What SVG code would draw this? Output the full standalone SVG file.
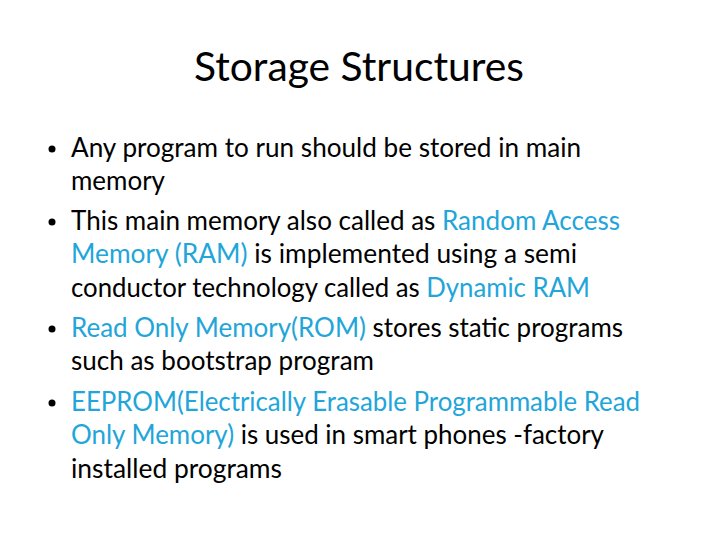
<svg xmlns="http://www.w3.org/2000/svg" width="720" height="540" viewBox="0 0 720 540">
<style>
.t{font-family:Lato,"Open Sans","Liberation Sans",sans-serif;fill:#000}
.title{font-size:40px}
.b{font-size:26px}
.h{fill:#22A5D9}
.dot{fill:#000}
</style>
<rect width="720" height="540" fill="#fff"/>
<g id="title">
<text class="t title" x="194" y="81" textLength="330" lengthAdjust="spacingAndGlyphs">Storage Structures</text>
</g>
<g id="bullets">
<circle class="dot" cx="52" cy="149" r="3.5"/>
<circle class="dot" cx="52" cy="222" r="3.5"/>
<circle class="dot" cx="52" cy="329" r="3.5"/>
<circle class="dot" cx="52" cy="403" r="3.5"/>
</g>
<g id="body">
<text class="t b" x="71" y="157" textLength="510" lengthAdjust="spacingAndGlyphs">Any program to run should be stored in main</text>
<text class="t b" x="71" y="190" textLength="94" lengthAdjust="spacingAndGlyphs">memory</text>
<text class="t b" x="71" y="230" textLength="549" lengthAdjust="spacingAndGlyphs">This main memory also called as <tspan class="h">Random Access</tspan></text>
<text class="t b" x="71" y="263" textLength="506" lengthAdjust="spacingAndGlyphs"><tspan class="h">Memory (RAM)</tspan> is implemented using a semi</text>
<text class="t b" x="71" y="297" textLength="519" lengthAdjust="spacingAndGlyphs">conductor technology called as <tspan class="h">Dynamic RAM</tspan></text>
<text class="t b" x="71" y="337" textLength="552" lengthAdjust="spacingAndGlyphs"><tspan class="h">Read Only Memory(ROM)</tspan> stores static programs</text>
<text class="t b" x="71" y="370" textLength="303" lengthAdjust="spacingAndGlyphs">such as bootstrap program</text>
<text class="t b h" x="71" y="411" textLength="569" lengthAdjust="spacingAndGlyphs">EEPROM(Electrically Erasable Programmable Read</text>
<text class="t b" x="71" y="444" textLength="533" lengthAdjust="spacingAndGlyphs"><tspan class="h">Only Memory)</tspan> is used in smart phones -factory</text>
<text class="t b" x="71" y="478" textLength="211" lengthAdjust="spacingAndGlyphs">installed programs</text>
</g>
</svg>
